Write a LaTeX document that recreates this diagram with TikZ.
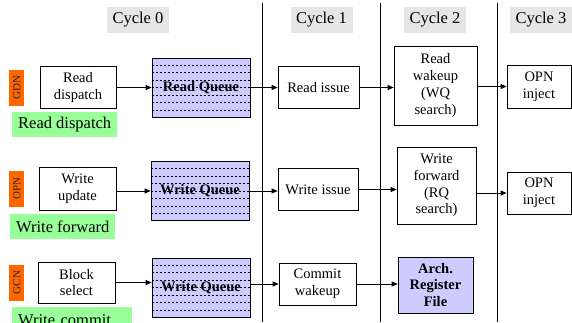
\documentclass[tikz,border=0pt]{standalone}
\usepackage{fontspec}
\setmainfont{Liberation Serif}
\usepackage{graphicx}
\usepackage{xcolor}
\usetikzlibrary{arrows.meta,positioning,calc}

\definecolor{qfill}{RGB}{204,204,255}
\definecolor{tagfill}{RGB}{255,102,0}
\definecolor{notefill}{RGB}{153,255,153}
\definecolor{hdrfill}{RGB}{230,230,230}

\begin{document}
\begin{tikzpicture}[
  x=1pt, y=-1pt,
  node distance=15pt,
  hdr/.style={fill=hdrfill, minimum width=62pt, minimum height=26pt,
              inner sep=0pt, font=\fontsize{16.5}{19}\selectfont},
  box/.style={rectangle, draw=black, line width=0.8pt, fill=white,
              align=center, inner sep=2pt,
              font=\fontsize{14.5}{16.7}\selectfont},
  wh/.style 2 args={minimum width=#1pt, minimum height=#2pt},
  queue/.style={box, fill=qfill, wh={98}{59},
                font=\fontsize{14.5}{16.7}\selectfont\bfseries},
  qline/.style={line width=0.6pt, dash pattern=on 2.5pt off 1.5pt},
  tag/.style={fill=tagfill, text=black!85, wh={15}{36}, inner sep=0pt,
              font=\fontsize{11}{13}\selectfont},
  note/.style={fill=notefill, anchor=north west, minimum height=25pt,
               inner xsep=6pt, font=\fontsize{16.5}{19}\selectfont},
  arr/.style={-{Triangle[length=6pt,width=5pt]}, line width=0.8pt},
  divider/.style={line width=0.9pt}
]
\useasboundingbox (0,0) rectangle (572,322);
\clip (0,0) rectangle (572,322);

\node[hdr] (cyc0) at (138,20)   {Cycle 0};
\node[hdr] (cyc1) at (321.5,20) {Cycle 1};
\node[hdr] (cyc2) at (435,20)   {Cycle 2};
\node[hdr] (cyc3) at (541,20)   {Cycle 3};

\draw[divider] (262,3) -- (262,322);
\draw[divider] (380,3) -- (380,322);
\draw[divider] (497,3) -- (497,322);

\node[box, wh={76}{42}] (rdisp)  at (78,87.5)    {Read\\dispatch};
\node[queue]            (rq)     at (201,87.5)   {Read Queue};
\node[box, wh={81}{42}] (rissue) at (318.5,87.5) {Read issue};
\node[box, wh={83}{79}] (rwake)  at (435.5,85.5) {Read\\wakeup\\(WQ\\search)};
\node[box, wh={64}{43}] (ropn)   at (539,86.5)   {OPN\\inject};
\node[tag, left=of rdisp] (gdn) {\rotatebox{90}{GDN}};
\node[note] (rdnote) at (12,112) {Read dispatch};

\node[box, wh={77}{43}] (wupd)   at (77.5,188.5) {Write\\update};
\node[queue]            (wq)     at (200,191)    {Write Queue};
\node[box, wh={80}{42}] (wissue) at (318,189.5)  {Write issue};
\node[box, wh={79}{77}] (wfwd)   at (436.5,185.5) {Write\\forward\\(RQ\\search)};
\node[box, wh={64}{42}] (wopn)   at (539,193)    {OPN\\inject};
\node[tag, left=14pt of wupd] (opn) {\rotatebox{90}{OPN}};
\node[note] (wfnote) at (10,214) {Write forward};

\node[box, wh={77}{41}] (bsel)   at (76.5,282.5) {Block\\select};
\node[queue]            (cq)     at (201,287.5)  {Write Queue};
\node[box, wh={77}{42}] (commit) at (317.5,284)  {Commit\\wakeup};
\node[box, fill=qfill, wh={75}{56},
      font=\fontsize{14.5}{16.7}\selectfont\bfseries] (arf) at (435.5,285) {Arch.\\Register\\File};
\node[tag, left=13pt of bsel] (gcn) {\rotatebox{90}{GCN}};
\node[note, text width=108pt, align=left] (wcnote) at (12,307) {Write commit};

\foreach \q in {rq,wq,cq}
  \foreach \k in {1,...,7}
    \draw[qline] ($(\q.north west)!\k/8!(\q.south west)$) -- ($(\q.north east)!\k/8!(\q.south east)$);

\draw[arr] (rdisp) -- (rq);
\draw[arr] (rq) -- (rissue);
\draw[arr] (rissue) -- (rissue -| rwake.west);
\draw[arr] (rwake.east |- ropn) -- (ropn);

\draw[arr] (wupd.east |- wq) -- (wq);
\draw[arr] (wq) -- (wq -| wissue.west);
\draw[arr] (wissue) -- (wissue -| wfwd.west);
\draw[arr] (wfwd.east |- wopn) -- (wopn);

\draw[arr] (bsel) -- (bsel -| cq.west);
\draw[arr] (cq.east |- commit) -- (commit);
\draw[arr] (commit) -- (commit -| arf.west);
\end{tikzpicture}
\end{document}
